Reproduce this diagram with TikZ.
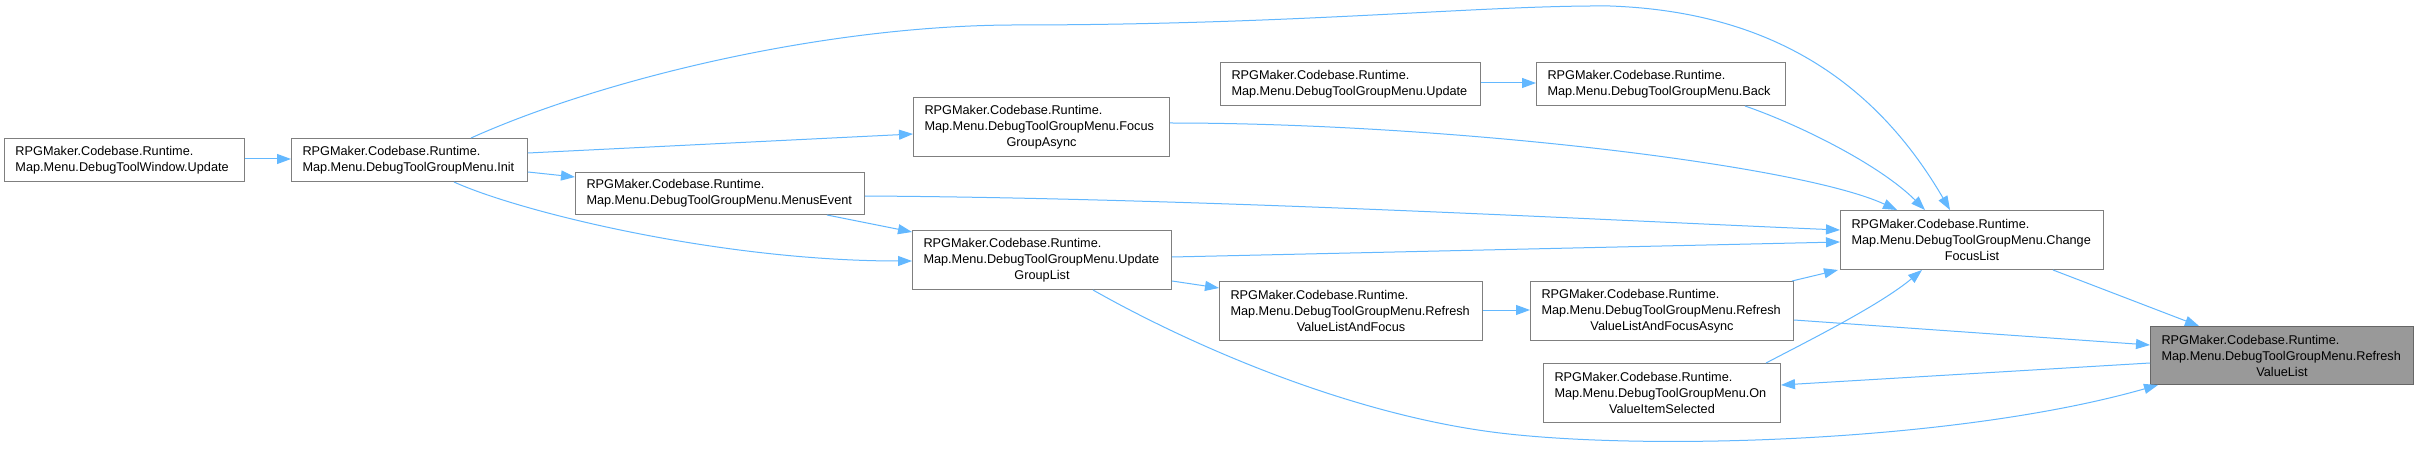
\documentclass[tikz,border=0pt]{standalone}
\usepackage{fontspec}
\setmainfont{Liberation Sans}
\usetikzlibrary{arrows.meta}
\definecolor{edgeblue}{HTML}{63B8FF}
\definecolor{boxborder}{HTML}{7F7F7F}
\definecolor{hlfill}{HTML}{999999}
\begin{document}
\begin{tikzpicture}[x=1pt,y=-1pt,
  box/.style={draw=boxborder, line width=1pt, fill=white, anchor=north west,
    inner xsep=11pt, inner ysep=0pt, align=left,
    font=\fontsize{12.7}{16}\selectfont},
  conn/.style={draw=edgeblue, line width=1pt, -{Triangle[length=14pt,width=10pt]}}]
\useasboundingbox (0,0) rectangle (2418,449);
\fill[white] (0,0) rectangle (2418,449);

\node[box, text width=218pt, minimum height=43pt] (dtwu) at (4,138)
  {RPGMaker.Codebase.Runtime.\\Map.Menu.DebugToolWindow.Update};
\node[box, text width=214pt, minimum height=43pt] (init) at (291,138)
  {RPGMaker.Codebase.Runtime.\\Map.Menu.DebugToolGroupMenu.Init};
\node[box, text width=267pt, minimum height=42pt] (me) at (575,172)
  {RPGMaker.Codebase.Runtime.\\Map.Menu.DebugToolGroupMenu.MenusEvent};
\node[box, text width=234pt, minimum height=59pt] (fga) at (913,97)
  {RPGMaker.Codebase.Runtime.\\Map.Menu.DebugToolGroupMenu.Focus\\\makebox[\linewidth]{GroupAsync}};
\node[box, text width=238pt, minimum height=43pt] (upd) at (1220,62)
  {RPGMaker.Codebase.Runtime.\\Map.Menu.DebugToolGroupMenu.Update};
\node[box, text width=227pt, minimum height=43pt] (back) at (1536,62)
  {RPGMaker.Codebase.Runtime.\\Map.Menu.DebugToolGroupMenu.Back};
\node[box, text width=237pt, minimum height=59pt] (ugl) at (912,230)
  {RPGMaker.Codebase.Runtime.\\Map.Menu.DebugToolGroupMenu.Update\\\makebox[\linewidth]{GroupList}};
\node[box, text width=241pt, minimum height=59pt] (rvlaf) at (1219,281)
  {RPGMaker.Codebase.Runtime.\\Map.Menu.DebugToolGroupMenu.Refresh\\\makebox[\linewidth]{ValueListAndFocus}};
\node[box, text width=241pt, minimum height=59pt] (async) at (1530,281)
  {RPGMaker.Codebase.Runtime.\\Map.Menu.DebugToolGroupMenu.Refresh\\\makebox[\linewidth]{ValueListAndFocusAsync}};
\node[box, text width=215pt, minimum height=59pt] (ovis) at (1543,363)
  {RPGMaker.Codebase.Runtime.\\Map.Menu.DebugToolGroupMenu.On\\\makebox[\linewidth]{ValueItemSelected}};
\node[box, text width=241pt, minimum height=59pt] (cfl) at (1840,210)
  {RPGMaker.Codebase.Runtime.\\Map.Menu.DebugToolGroupMenu.Change\\\makebox[\linewidth]{FocusList}};
\node[box, fill=hlfill, draw=gray!80!black, text width=241pt, minimum height=58pt] (rvl) at (2150,326)
  {RPGMaker.Codebase.Runtime.\\Map.Menu.DebugToolGroupMenu.Refresh\\\makebox[\linewidth]{ValueList}};

\draw[conn] (dtwu.east |- 0,159) -- (init.west |- 0,159);
\draw[conn] (init.east |- 0,153) -- (fga.west |- 0,134);
\draw[conn] (init.east |- 0,172) -- (me.west |- 0,177);
\draw[conn] (init.south -| 454,0) .. controls (520,212) and (720,261) .. (ugl.west |- 0,261);
\draw[conn] (me.south -| 827,0) -- (ugl.west |- 0,232);
\draw[conn] (init.north -| 471,0) .. controls (600,80) and (820,26) .. (1012,25)
  .. controls (1300,25) and (1480,5) .. (1610,6)
  .. controls (1780,12) and (1880,90) .. (cfl.north -| 1950,0);
\draw[conn] (upd.east |- 0,83) -- (back.west |- 0,83);
\draw[conn] (back.south -| 1745,0) .. controls (1800,125) and (1880,165) .. (cfl.north -| 1925,0);
\draw[conn] (fga.east |- 0,123) .. controls (1450,123) and (1800,165) .. (cfl.north -| 1897,0);
\draw[conn] (me.east |- 0,196) .. controls (1200,198) and (1600,220) .. (cfl.west |- 0,230);
\draw[conn] (ugl.east |- 0,257) -- (cfl.west |- 0,242);
\draw[conn] (ugl.east |- 0,281) -- (rvlaf.west |- 0,288);
\draw[conn] (rvlaf.east |- 0,310) -- (async.west |- 0,310);
\draw[conn] (async.north -| 1792,0) -- (cfl.south -| 1838,0);
\draw[conn] (ovis.north -| 1766,0) .. controls (1810,340) and (1880,305) .. (cfl.south -| 1922,0);
\draw[conn] (cfl.south -| 2053,0) -- (rvl.north -| 2199,0);
\draw[conn] (async.east |- 0,320) -- (rvl.west |- 0,345);
\draw[conn] (rvl.west |- 0,363) -- (ovis.east |- 0,385);
\draw[conn] (ugl.south -| 1093,0) .. controls (1190,345) and (1350,415) .. (1500,433)
  .. controls (1650,451) and (1958,442) .. (rvl.south -| 2158,0);
\end{tikzpicture}
\end{document}
